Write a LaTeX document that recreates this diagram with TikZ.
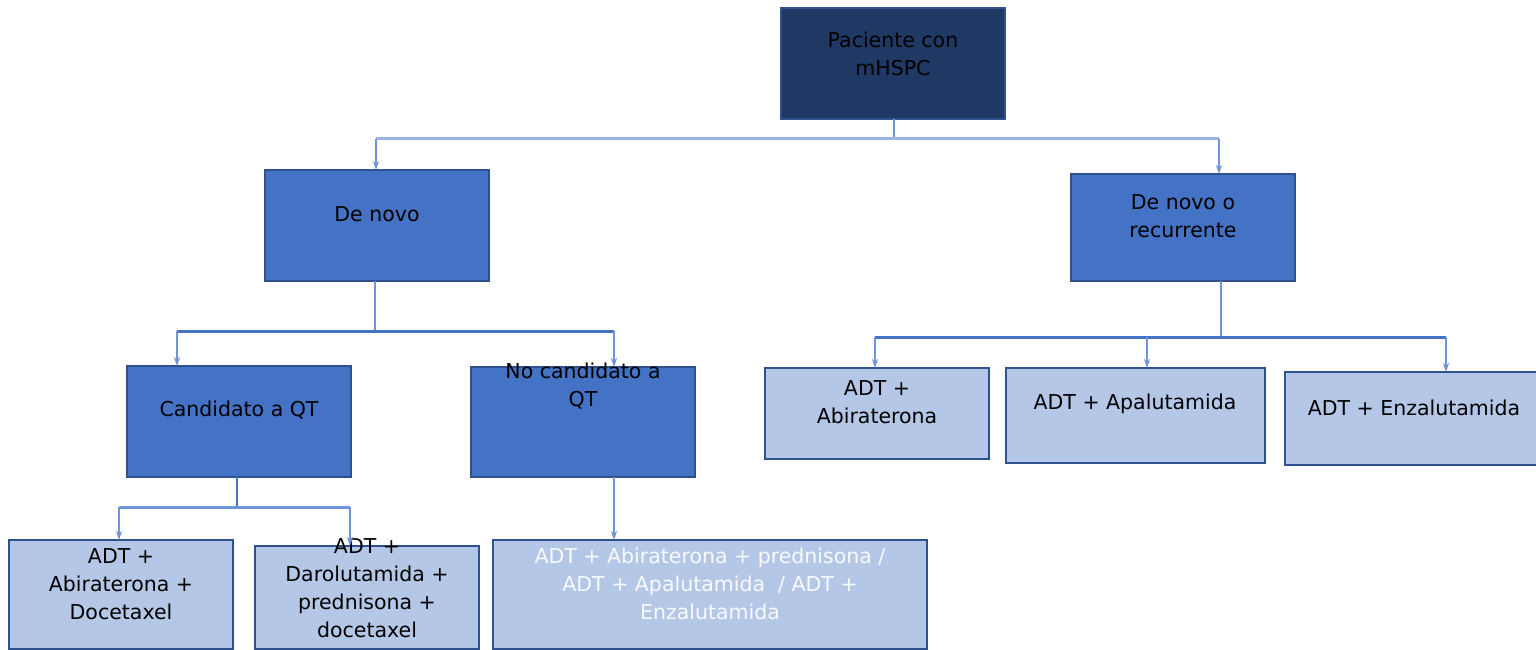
\documentclass[tikz,border=0pt]{standalone}
\usepackage{fontspec}
\setmainfont{DejaVu Sans}
\usetikzlibrary{arrows.meta}
\definecolor{navy}{HTML}{203864}
\definecolor{midblue}{HTML}{4472C4}
\definecolor{lightblue}{HTML}{B4C7E7}
\definecolor{edge}{HTML}{2F528F}
\definecolor{vcol}{HTML}{7094D9}
\definecolor{topline}{HTML}{9BB3E3}
\begin{document}
\begin{tikzpicture}[x=1pt,y=-1pt,
  box/.style={draw=edge,line width=2pt,inner sep=0pt,outer sep=0pt,minimum width=224pt,minimum height=111pt},
  darkbox/.style={box,fill=navy},
  midbox/.style={box,fill=midblue},
  lightbox/.style={box,fill=lightblue},
  txt/.style={align=center,inner sep=0pt,font=\fontsize{20.5}{28}\selectfont,text=black},
  wtxt/.style={txt,text=white!92!lightblue},
  vline/.style={draw=vcol,line width=2pt},
  hline/.style={draw=midblue,line width=3pt},
  arr/.style={draw=vcol,line width=2pt,-{Stealth[length=9pt,width=6pt]}}]
\useasboundingbox (0,0) rectangle (1536,650);
\fill[white] (0,0) rectangle (1536,650);
% boxes
\node[darkbox] (top) at (893,63.5) {};
\node[midbox,minimum height=111pt] (den) at (377,225.5) {};
\node[midbox,minimum height=107pt] (rec) at (1183,227.5) {};
\node[midbox,minimum height=111pt] (cand) at (239,421.5) {};
\node[midbox,minimum height=110pt] (nocand) at (583,422) {};
\node[lightbox,minimum height=109pt] (b1) at (121,594.5) {};
\node[lightbox,minimum height=103pt] (b2) at (367,597.5) {};
\node[lightbox,minimum width=434pt,minimum height=109pt] (b3) at (710,594.5) {};
\node[lightbox,minimum height=91pt] (r1) at (877,413.5) {};
\node[lightbox,minimum width=259pt,minimum height=95pt] (r2) at (1135.5,415.5) {};
\node[lightbox,minimum width=254pt,minimum height=93pt] (r3) at (1412,418.5) {};
% texts
\node[txt] (ttop) at (893,53.5) {Paciente con\\mHSPC};
\node[txt] (tden) at (377,214) {De novo};
\node[txt] (trec) at (1183,216.5) {De novo o\\recurrente};
\node[txt] (tcand) at (239,410) {Candidato a QT};
\node[txt] (tnocand) at (583,386.5) {No candidato a\\QT};
\node[txt] (tb1) at (121,584) {ADT +\\Abiraterona +\\Docetaxel};
\node[txt] (tb2) at (367,588.5) {ADT +\\Darolutamida +\\prednisona +\\docetaxel};
\node[wtxt] (tb3) at (710,584) {ADT + Abiraterona + prednisona /\\ADT + Apalutamida \ / ADT +\\Enzalutamida};
\node[txt] (tr1) at (877,402) {ADT +\\Abiraterona};
\node[txt] (tr2) at (1135,404) {ADT + Apalutamida};
\node[txt] (tr3) at (1414,408) {ADT + Enzalutamida};
% connectors level 1
\coordinate (j1) at (894,139);
\coordinate (j1l) at (376,139);
\coordinate (j1r) at (1219,139);
\draw[vline] (j1 |- top.south) -- (j1);
\draw[draw=topline,line width=3pt] (j1l) -- (j1r);
\draw[arr] (j1l) -- (j1l |- den.north);
\draw[arr] (j1r) -- (j1r |- rec.north);
% connectors level 2 (de novo)
\coordinate (j2) at (375,331);
\coordinate (j2l) at (177,331);
\coordinate (j2r) at (614,331);
\draw[vline] (j2 |- den.south) -- (j2);
\draw[hline] (j2l) -- (j2r);
\draw[arr] (j2l) -- (j2l |- cand.north);
\draw[arr] (j2r) -- (j2r |- nocand.north);
% connectors (recurrente)
\coordinate (j3) at (1221,337);
\coordinate (j3l) at (875,337);
\coordinate (j3m) at (1147,337);
\coordinate (j3r) at (1446,337);
\draw[vline] (j3 |- rec.south) -- (j3);
\draw[hline] (j3l) -- (j3r);
\draw[arr] (j3l) -- (j3l |- r1.north);
\draw[arr] (j3m) -- (j3m |- r2.north);
\draw[arr] (j3r) -- (j3r |- r3.north);
% connectors (candidato)
\coordinate (j4) at (237,508);
\coordinate (j4l) at (119,507);
\coordinate (j4r) at (350,507);
\draw[draw=midblue,line width=2.5pt] (j4 |- cand.south) -- (j4);
\draw[draw=vcol,line width=3pt] (j4l) -- (j4r);
\draw[arr] (j4l) -- (j4l |- b1.north);
\draw[arr] (j4r) -- (j4r |- b2.north);
% no candidato
\coordinate (n0) at (614,477);
\draw[arr] (n0) -- (n0 |- b3.north);
\end{tikzpicture}
\end{document}
